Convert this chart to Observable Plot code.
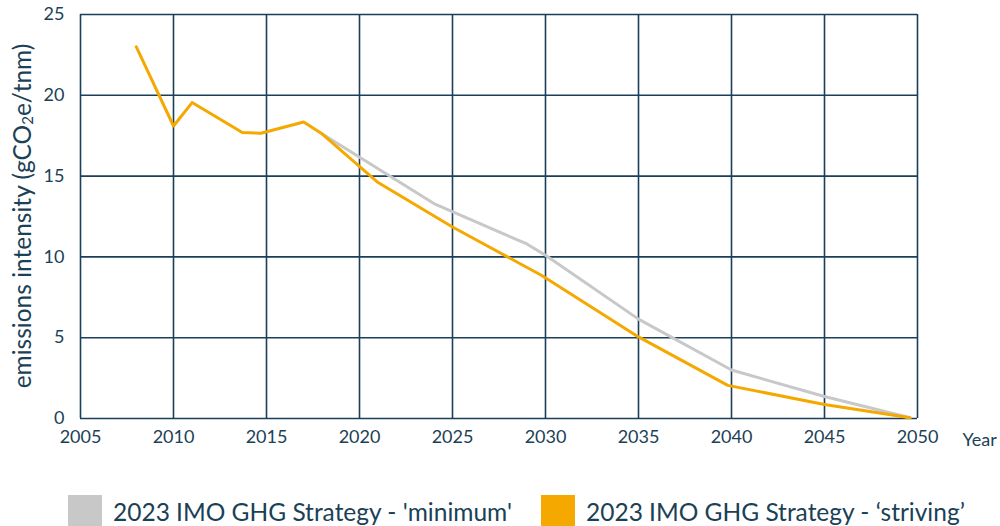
<!DOCTYPE html>
<html>
<head>
<meta charset="utf-8">
<script src="https://cdn.jsdelivr.net/npm/d3@7"></script>
<script src="https://cdn.jsdelivr.net/npm/@observablehq/plot@0.6"></script>
<style>
  html, body { margin: 0; padding: 0; background: #fff; }
  body { width: 1000px; height: 526px; overflow: hidden; font-family: Lato, "Open Sans", sans-serif; color: #1b4156; }
  #chart svg { display: block; }
  #legend { position: relative; height: 56px; }
  .item { position: absolute; top: 25px; display: flex; align-items: center; font-size: 24.5px; line-height: 1; white-space: nowrap; }
  .sw { width: 34px; height: 34px; margin-right: 11px; flex: none; }
</style>
</head>
<body>
<div id="chart"></div>
<div id="legend"></div>
<script>
// Data
const xTicks = [2005, 2010, 2015, 2020, 2025, 2030, 2035, 2040, 2045, 2050];
const yTicks = [0, 5, 10, 15, 20, 25];

const seriesNames = ["2023 IMO GHG Strategy - 'minimum'", "2023 IMO GHG Strategy - \u2018striving\u2019"];
const seriesColors = ["#c8c8c8", "#f5a800"];

const minimumYears  = [2018, 2021, 2024, 2029, 2030, 2035, 2040, 2045, 2049.6];
const minimumValues = [17.6, 15.45, 13.3, 10.8, 10.1, 6.15, 3.0, 1.36, 0.05];

const strivingYears  = [2008, 2010, 2011, 2013.7, 2014.7, 2017, 2018, 2021, 2025, 2029.8, 2035, 2039.8, 2045, 2049.6];
const strivingValues = [23.0, 18.1, 19.55, 17.7, 17.65, 18.35, 17.6, 14.6, 11.85, 8.85, 5.05, 2.05, 0.87, 0.04];

const minimum = minimumYears.map((year, i) => ({year, value: minimumValues[i]}));
const striving = strivingYears.map((year, i) => ({year, value: strivingValues[i]}));

const gridColor = "#1a3f58";
const textColor = "#1b4156";

const chart = Plot.plot({
  width: 1000,
  height: 470,
  marginLeft: 80,
  marginRight: 83,
  marginTop: 14,
  marginBottom: 52,
  style: { fontFamily: "Lato, 'Open Sans', sans-serif", fontSize: "18px", color: textColor, background: "#fff", overflow: "visible" },
  x: { domain: [2005, 2050], label: null },
  y: { domain: [0, 25], label: null },
  marks: [
    Plot.gridX(xTicks, { stroke: gridColor, strokeOpacity: 1, strokeWidth: 1.6 }),
    Plot.gridY(yTicks, { stroke: gridColor, strokeOpacity: 1, strokeWidth: 1.6 }),
    Plot.axisX(xTicks, { tickSize: 0, tickPadding: 12, tickFormat: d => String(d), label: null, fill: textColor }),
    Plot.axisY(yTicks, { tickSize: 0, tickPadding: 16, label: null, fill: textColor }),
    Plot.line(minimum, { x: "year", y: "value", stroke: seriesColors[0], strokeWidth: 3 }),
    Plot.line(striving, { x: "year", y: "value", stroke: seriesColors[1], strokeWidth: 3 }),
    Plot.text(["Year"], { frameAnchor: "bottom-right", textAnchor: "start", lineAnchor: "middle", dx: 45, dy: 22, fill: textColor, fontSize: 18 })
  ]
});

// Y-axis title with subscript
const svg = d3.select(chart);
const t = svg.append("text")
  .attr("transform", "translate(21,216) rotate(-90)")
  .attr("text-anchor", "middle")
  .attr("dominant-baseline", "central")
  .attr("fill", textColor)
  .attr("font-size", 24.5);
t.append("tspan").text("emissions intensity (gCO");
t.append("tspan").attr("font-size", 15).attr("dy", 6).text("2");
t.append("tspan").attr("dy", -6).text("e/tnm)");

document.getElementById("chart").appendChild(chart);

// Legend
const legend = d3.select("#legend");
const lefts = [68, 541];
seriesNames.forEach((name, i) => {
  const item = legend.append("div").attr("class", "item").style("left", lefts[i] + "px");
  item.append("div").attr("class", "sw").style("background", seriesColors[i]);
  item.append("span").text(name);
});
</script>
</body>
</html>
